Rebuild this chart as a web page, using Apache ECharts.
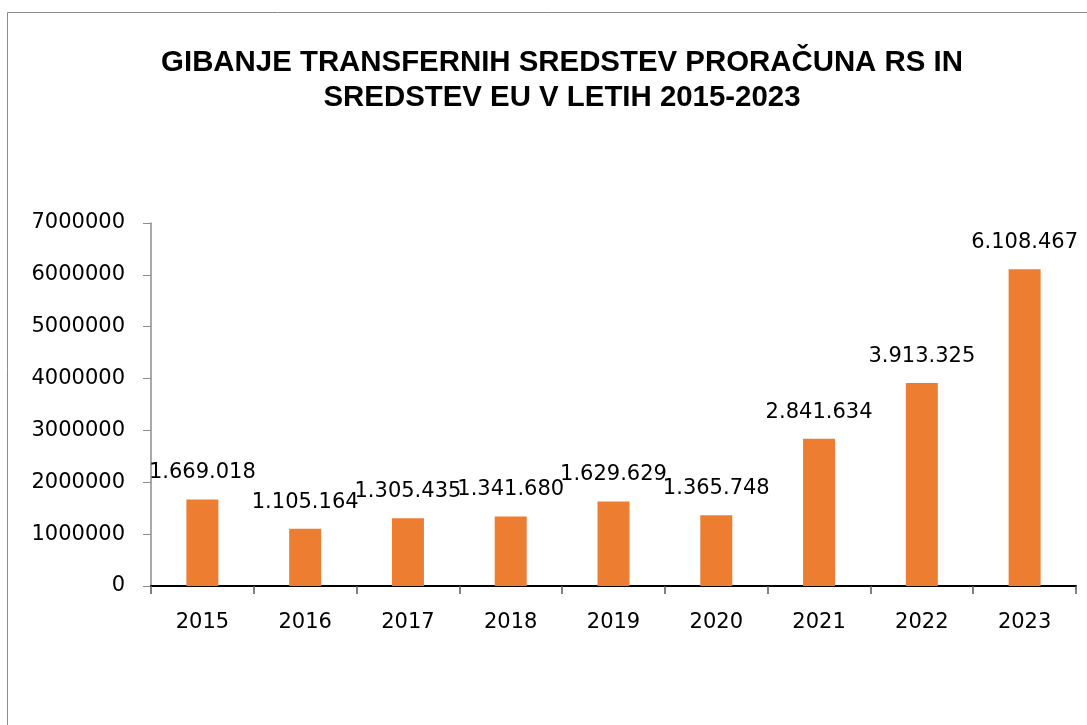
<!DOCTYPE html>
<html>
<head>
<meta charset="utf-8">
<script src="https://cdn.jsdelivr.net/npm/echarts@6/dist/echarts.min.js"></script>
<style>
html, body { margin: 0; padding: 0; background: #fff; }
#main { width: 1087px; height: 725px; }
</style>
</head>
<body>
<div id="main"></div>
<script>
// podatki
var years = ['2015', '2016', '2017', '2018', '2019', '2020', '2021', '2022', '2023'];
var values = [1669018, 1105164, 1305435, 1341680, 1629629, 1365748, 2841634, 3913325, 6108467];
var yTicks = [0, 1000000, 2000000, 3000000, 4000000, 5000000, 6000000, 7000000];

function fmtDots(v) {
    return String(v).replace(/\B(?=(\d{3})+(?!\d))/g, '.');
}

var myChart = echarts.init(document.getElementById('main'));
var option = {
    backgroundColor: '#fff',
    animation: false,
    title: {
        text: 'GIBANJE TRANSFERNIH SREDSTEV PRORAČUNA RS IN\nSREDSTEV EU V LETIH 2015-2023',
        left: 557,
        top: 40,
        textAlign: 'center',
        textStyle: {
            fontFamily: 'Liberation Sans',
            fontWeight: 'bold',
            fontSize: 29.4,
            lineHeight: 35,
            color: '#000'
        }
    },
    graphic: [{
        type: 'rect',
        shape: { x: 7.5, y: 12.5, width: 1200, height: 800 },
        style: { fill: 'none', stroke: '#8c8c8c', lineWidth: 1 },
        silent: true
    }],
    grid: {
        left: 151,
        right: 11,
        top: 223,
        bottom: 139
    },
    xAxis: {
        type: 'category',
        data: years,
        axisLine: { lineStyle: { color: '#000', width: 2 } },
        axisTick: { show: true, length: 8, lineStyle: { color: '#595959', width: 1.5 } },
        axisLabel: {
            margin: 26,
            fontFamily: 'DejaVu Sans',
            fontSize: 21,
            color: '#000'
        }
    },
    yAxis: {
        type: 'value',
        min: 0,
        max: yTicks[yTicks.length - 1],
        interval: 1000000,
        axisLine: { show: true, lineStyle: { color: '#8c8c8c', width: 1.5 } },
        axisTick: { show: true, length: 8, lineStyle: { color: '#8c8c8c' } },
        splitLine: { show: false },
        axisLabel: {
            margin: 26,
            fontFamily: 'DejaVu Sans',
            fontSize: 21,
            color: '#000',
            formatter: function (v) { return String(v); }
        }
    },
    series: [{
        type: 'bar',
        data: values,
        barWidth: 32,
        itemStyle: { color: '#ED7D31' },
        label: {
            show: true,
            position: 'top',
            distance: 16,
            fontFamily: 'DejaVu Sans',
            fontSize: 21,
            color: '#000',
            formatter: function (p) { return fmtDots(p.value); }
        }
    }]
};
myChart.setOption(option);
</script>
</body>
</html>
